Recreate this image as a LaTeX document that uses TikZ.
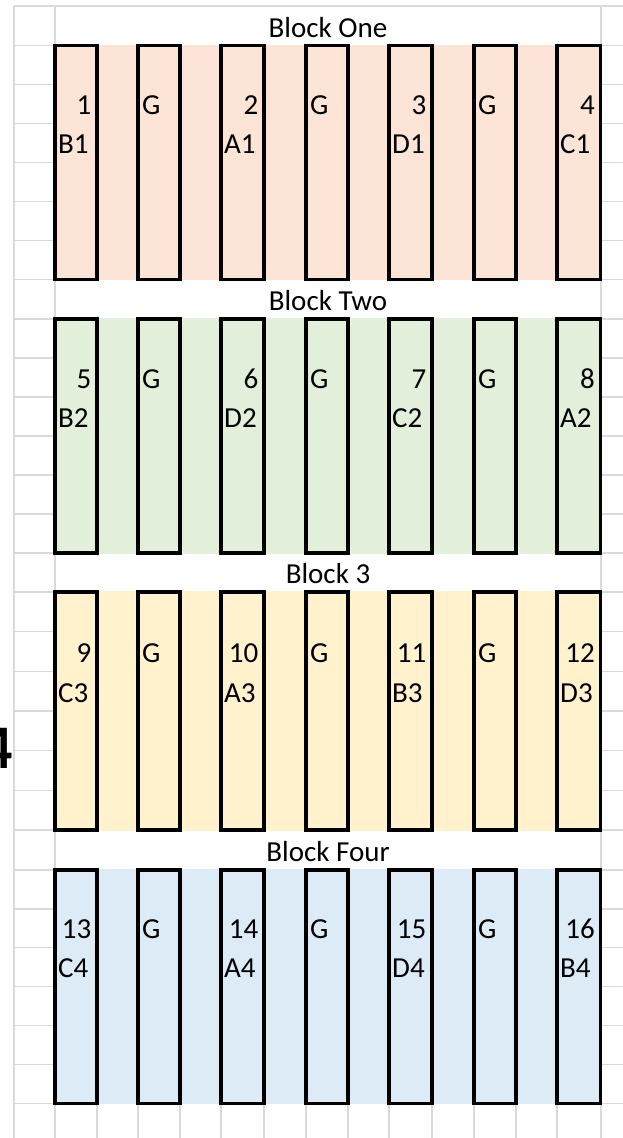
\documentclass[tikz,border=0pt]{standalone}
\usepackage{fontspec}
\setmainfont{Carlito}
\definecolor{gridc}{RGB}{217,217,217}
\definecolor{fillA}{RGB}{252,228,214}
\definecolor{fillB}{RGB}{226,239,218}
\definecolor{fillC}{RGB}{255,242,204}
\definecolor{fillD}{RGB}{221,235,247}
\begin{document}
\begin{tikzpicture}[x=1pt,y=-1pt,
  gridline/.style={draw=gridc,line width=1.3pt},
  rack/.style={draw=black,line width=3.3pt},
  hdr/.style={font=\fontsize{29}{34}\selectfont,inner sep=0pt,anchor=base},
  num/.style={font=\fontsize{29}{34}\selectfont,inner sep=0pt,anchor=base east},
  code/.style={font=\fontsize{29}{34}\selectfont,inner sep=0pt,anchor=base west}]
\useasboundingbox (0,0) rectangle (623,1138);
% spreadsheet grid
\foreach \x in {14,55,97,138,180,221,264,306,348,389,432,474,516,557,601}
  \draw[gridline] (\x,6) -- (\x,1138);
\foreach \y in {6,45.5,84.5,123.5,162.5,201.5,240.5,279.5,
                319,358,397,436,475,514,553,
                592,631.67,671.33,711,750.67,790.33,830,
                870,908.92,947.83,986.75,1025.67,1064.58,1103.5}
  \draw[gridline] (14,\y) -- (623,\y);
% merged header cells
\foreach \a/\b in {6/45.5,279.5/319,553/592,830/870}
  \fill[white] (55.8,\a+0.8) rectangle (600.2,\b-0.8);
% blocks
\foreach \bk/\col/\t/\b/\hd in {1/fillA/45.5/279.5/Block One,2/fillB/319/553/Block Two,3/fillC/592/830/Block 3,4/fillD/870/1103.5/Block Four}{
  \pgfmathsetmacro{\h}{(\b-\t)/6}
  \fill[\col] (55,{\t-0.7}) rectangle (601,{\b+0.7});
  \foreach \l/\r in {55/97,138/180,221/264,306/348,389/432,474/516,557/600.5}
    \draw[rack] (\l,\t) rectangle (\r,\b);
  \node[hdr] (h\bk) at (328,{\t-8.2}) {\hd};
  \foreach \l [count=\g] in {138,306,474}
    \node[code] (g\bk-\g) at ({\l+4},{\t+2*\h-9}) {G};
}
% plot labels
\foreach \bk/\k/\n/\c in {1/1/1/B1,1/2/2/A1,1/3/3/D1,1/4/4/C1,
                          2/1/5/B2,2/2/6/D2,2/3/7/C2,2/4/8/A2,
                          3/1/9/C3,3/2/10/A3,3/3/11/B3,3/4/12/D3,
                          4/1/13/C4,4/2/14/A4,4/3/15/D4,4/4/16/B4}{
  \pgfmathsetmacro\L{{55,221,389,557}[\k-1]}
  \pgfmathsetmacro\R{{97,264,432,600.5}[\k-1]}
  \pgfmathsetmacro\T{{45.5,319,592,870}[\bk-1]}
  \pgfmathsetmacro\H{{39,39,39.667,38.917}[\bk-1]}
  \node[num] (n\n) at ({\R-5.5},{\T+2*\H-9}) {\n};
  \node[code] (c\c) at ({\L+3},{\T+3*\H-9}) {\c};
}
% partly hidden figure at the left edge
\node[font=\bfseries\fontsize{62}{70}\selectfont,inner sep=0pt,anchor=base east] (side) at (13,768) {4};
\end{tikzpicture}
\end{document}
